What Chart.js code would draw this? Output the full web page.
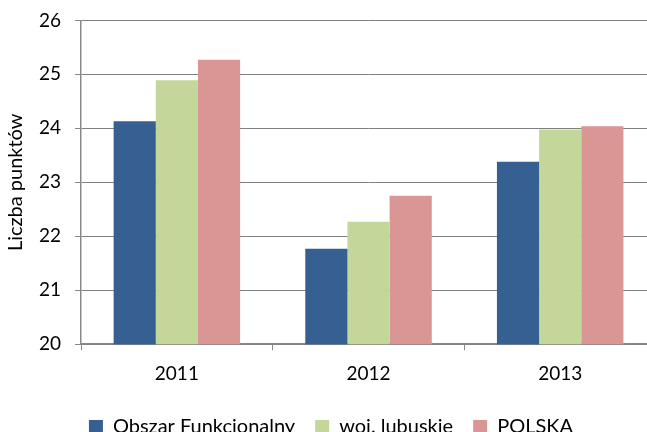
<!DOCTYPE html>
<html>
<head>
<meta charset="utf-8">
<script src="https://cdn.jsdelivr.net/npm/chart.js@4/dist/chart.umd.min.js"></script>
<style>
html,body{margin:0;padding:0;background:#fff;overflow:hidden;}
#wrap{position:relative;width:656px;height:452px;margin-top:-5px;}
</style>
</head>
<body>
<div id="wrap"><canvas id="c"></canvas></div>
<script>
const categories = ['2011', '2012', '2013'];
const seriesNames = ['Obszar Funkcjonalny', 'woj. lubuskie', 'POLSKA'];
const obszar = [24.13, 21.77, 23.38];
const lubuskie = [24.89, 22.27, 23.98];
const polska = [25.27, 22.75, 24.04];
const yTicks = [20, 21, 22, 23, 24, 25, 26];
const colors = ['#376092', '#C4D79B', '#D99694'];

const FONT = 'Lato';
new Chart(document.getElementById('c'), {
  type: 'bar',
  data: {
    labels: categories,
    datasets: [obszar, lubuskie, polska].map((d, i) => ({
      label: seriesNames[i],
      data: d,
      backgroundColor: colors[i],
      borderWidth: 0,
      categoryPercentage: 0.66,
      barPercentage: 1.0
    }))
  },
  options: {
    responsive: true,
    maintainAspectRatio: false,
    animation: false,
    layout: { padding: { left: 6, right: 0, top: 0, bottom: 0 } },
    plugins: {
      legend: {
        position: 'bottom',
        labels: {
          font: { family: FONT, size: 20 },
          color: '#000',
          boxWidth: 14,
          boxHeight: 14,
          padding: 20
        }
      },
      tooltip: { enabled: false }
    },
    scales: {
      x: {
        grid: { offset: true, drawOnChartArea: false, color: '#888', tickLength: 6, tickColor: '#888' },
        border: { color: '#888', width: 1.5 },
        ticks: { font: { family: FONT, size: 19 }, color: '#000', padding: 12 }
      },
      y: {
        min: 20, max: 26,
        afterBuildTicks: (axis) => { axis.ticks = yTicks.map(v => ({ value: v })); },
        grid: { color: '#808080', borderDash: [1, 1], tickBorderDash: [], tickColor: '#888', tickLength: 6, lineWidth: 1 },
        border: { color: '#888', width: 1.5 },
        ticks: { font: { family: FONT, size: 19 }, color: '#000', padding: 14 },
        title: { display: true, text: 'Liczba punktów', font: { family: FONT, size: 20, lineHeight: 1.0 }, color: '#000', padding: { top: 0, bottom: -1 } }
      }
    }
  }
});
</script>
</body>
</html>
